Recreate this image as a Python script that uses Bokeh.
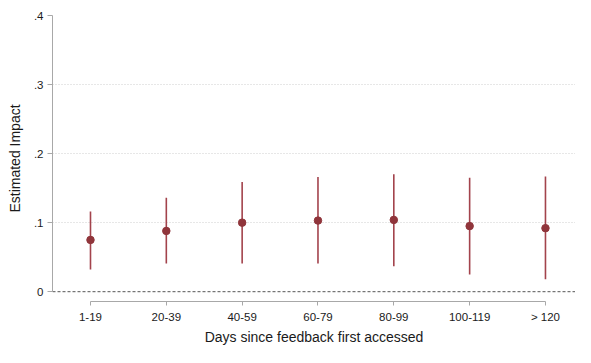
from bokeh.plotting import figure
from bokeh.models import ColumnDataSource, FixedTicker, Span, Range1d
from bokeh.embed import file_html
from bokeh.resources import INLINE

categories = ["1-19", "20-39", "40-59", "60-79", "80-99", "100-119", "> 120"]
estimate = [0.075, 0.088, 0.100, 0.103, 0.104, 0.095, 0.092]
ci_low = [0.032, 0.041, 0.041, 0.041, 0.037, 0.025, 0.018]
ci_high = [0.116, 0.136, 0.159, 0.166, 0.170, 0.165, 0.167]
y_ticks = [0, 0.1, 0.2, 0.3, 0.4]
y_tick_labels = ["0", ".1", ".2", ".3", ".4"]

xpos = list(range(1, len(categories) + 1))
src = ColumnDataSource(dict(x=xpos, est=estimate, lo=ci_low, hi=ci_high))

p = figure(width=575, height=347, output_backend="svg", toolbar_location=None,
           x_range=Range1d(0.499, 7.396), y_range=Range1d(-0.0142, 0.4),
           min_border_top=15, min_border_right=0, min_border_left=52,
           min_border_bottom=10)
p.outline_line_color = None
p.background_fill_color = "white"

FONT = "Liberation Sans"
AXC = "#a8a8a8"
TXT = "#1a1a1a"

# grid
p.xgrid.grid_line_color = None
p.ygrid.ticker = FixedTicker(ticks=[0.1, 0.2, 0.3])
p.ygrid.grid_line_color = "#cfcfcf"
p.ygrid.grid_line_dash = "1 2"
p.ygrid.grid_line_width = 1

# zero line
p.add_layout(Span(location=0, dimension="width", line_color="#555555",
                  line_dash="3 2", line_width=1))

# CI bars and points
p.segment(x0="x", y0="lo", x1="x", y1="hi", source=src,
          line_color="#a3434c", line_width=1.6)
p.scatter(x="x", y="est", source=src, size=7.5, fill_color="#90353b",
          line_color="#90353b")

# y axis
ya = p.yaxis[0]
ya.ticker = FixedTicker(ticks=y_ticks)
ya.major_label_overrides = {t: l for t, l in zip(y_ticks, y_tick_labels)}
ya.bounds = (0, 0.4)
ya.axis_line_color = AXC
ya.major_tick_line_color = AXC
ya.major_tick_out = 5
ya.major_tick_in = 0
ya.minor_tick_line_color = None
ya.major_label_standoff = 4
ya.major_label_text_font = FONT
ya.major_label_text_font_size = "11.5px"
ya.major_label_text_color = TXT
ya.axis_label = "Estimated Impact"
ya.axis_label_text_font = FONT
ya.axis_label_text_font_size = "14px"
ya.axis_label_text_font_style = "normal"
ya.axis_label_text_color = TXT
ya.axis_label_standoff = 8

# x axis
xa = p.xaxis[0]
xa.ticker = FixedTicker(ticks=xpos)
xa.major_label_overrides = {x: c for x, c in zip(xpos, categories)}
xa.bounds = (1, 7)
xa.axis_line_color = AXC
xa.major_tick_line_color = AXC
xa.major_tick_out = 4
xa.major_tick_in = 0
xa.minor_tick_line_color = None
xa.major_label_standoff = 5
xa.major_label_text_font = FONT
xa.major_label_text_font_size = "11.5px"
xa.major_label_text_color = TXT
xa.axis_label = "Days since feedback first accessed"
xa.axis_label_text_font = FONT
xa.axis_label_text_font_size = "14px"
xa.axis_label_text_font_style = "normal"
xa.axis_label_text_color = TXT
xa.axis_label_standoff = 3

open("out.html", "w").write(file_html(p, INLINE))
